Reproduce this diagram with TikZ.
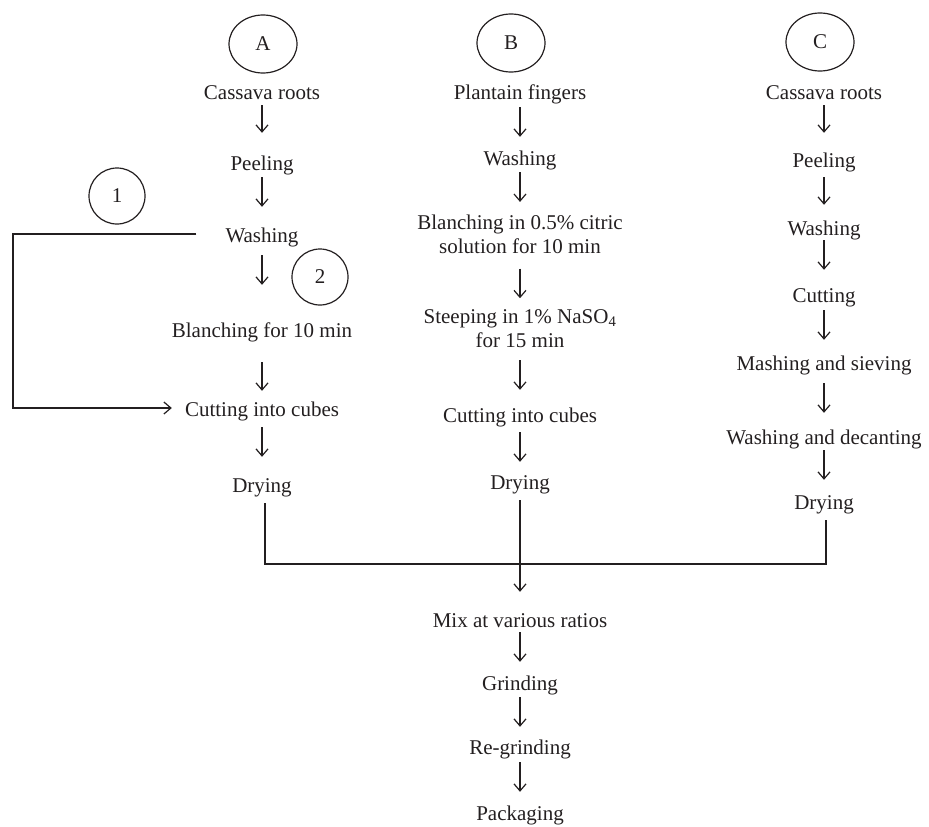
\documentclass[tikz,border=0pt]{standalone}
\usepackage{fontspec}
\setmainfont{Liberation Serif}
\usetikzlibrary{arrows.meta,shapes.geometric}
\definecolor{ink}{HTML}{231F20}
\newcommand\myflow[4]{\draw[arr] ([yshift=-#3pt]#1.south) -- ([yshift=#4pt]#2.north);}
\begin{document}
\begin{tikzpicture}[x=1pt,y=-1pt,
  lbl/.style={font=\fontsize{21}{24}\selectfont, text=ink, inner sep=0pt, text height=14pt, text depth=0pt, align=center},
  lbltwo/.style={font=\fontsize{21}{24}\selectfont, text=ink, inner sep=0pt, align=center},
  arr/.style={draw=ink, line width=1.2pt, -{Straight Barb[length=7pt,width=12pt,line width=1.2pt]}},
  ln/.style={draw=ink, line width=1.2pt},
  bubble/.style={draw=ink, line width=1.2pt, ellipse, minimum width=68pt, minimum height=58pt, inner sep=0pt, font=\fontsize{21}{24}\selectfont, text=ink},
  ring/.style={draw=ink, line width=1.2pt, circle, minimum size=56pt, inner sep=0pt, font=\fontsize{21}{24}\selectfont, text=ink}]
\useasboundingbox (0,0) rectangle (929,827);
% headers
\node[bubble] (eA) at (263,44) {A};
\node[bubble] (eB) at (511,43) {B};
\node[bubble] (eC) at (820,42) {C};
\node[ring] (r1) at (117,196) {1};
\node[ring] (r2) at (320,277) {2};
% column A
\node[lbl] (a1) at (262,92) {Cassava roots};
\node[lbl] (a2) at (262,163) {Peeling};
\node[lbl] (a3) at (262,235) {Washing};
\node[lbl] (a4) at (262,330) {Blanching for 10 min};
\node[lbl] (a5) at (262,409) {Cutting into cubes};
\node[lbl] (a6) at (262,485) {Drying};
% column B
\node[lbl] (b1) at (520,92) {Plantain fingers};
\node[lbl] (b2) at (520,158) {Washing};
\node[lbltwo] (b3) at (520,234) {Blanching in 0.5\% citric\\solution for 10 min};
\node[lbltwo] (b4) at (520,329) {Steeping in 1\% NaSO\textsubscript{4}\\for 15 min};
\node[lbl] (b5) at (520,415) {Cutting into cubes};
\node[lbl] (b6) at (520,482) {Drying};
% column C
\node[lbl] (c1) at (824,92) {Cassava roots};
\node[lbl] (c2) at (824,160) {Peeling};
\node[lbl] (c3) at (824,228) {Washing};
\node[lbl] (c4) at (824,295) {Cutting};
\node[lbl] (c5) at (824,363) {Mashing and sieving};
\node[lbl] (c6) at (824,437) {Washing and decanting};
\node[lbl] (c7) at (824,502) {Drying};
% merged
\node[lbl] (m1) at (520,620) {Mix at various ratios};
\node[lbl] (m2) at (520,683) {Grinding};
\node[lbl] (m3) at (520,747) {Re-grinding};
\node[lbl] (m4) at (520,813) {Packaging};
% arrows A
\myflow{a1}{a2}{6}{23}
\myflow{a2}{a3}{7}{21}
\myflow{a3}{a4}{13}{38}
\myflow{a4}{a5}{25}{11}
\myflow{a5}{a6}{11}{21}
% arrows B
\myflow{b1}{b2}{8}{14}
\myflow{b2}{b3}{7}{12.5}
\myflow{b3}{b4}{15}{11.5}
\myflow{b4}{b5}{12}{18}
\myflow{b5}{b6}{10}{13}
\myflow{b6}{m1}{11}{21}
% arrows C
\myflow{c1}{c2}{6}{20}
\myflow{c2}{c3}{10}{16}
\myflow{c3}{c4}{5}{18}
\myflow{c4}{c5}{8}{16}
\myflow{c5}{c6}{13}{17}
\myflow{c6}{c7}{6}{15}
% arrows merged
\myflow{m1}{m2}{5}{14}
\myflow{m2}{m3}{7}{13}
\myflow{m3}{m4}{8}{14}
% join line
\coordinate (jA) at (265,564);
\coordinate (jC) at (826,564);
\draw[ln] ([xshift=3pt,yshift=-11pt]a6.south) -- (jA) -- (jC) -- ([xshift=2pt,yshift=-11pt]c7.south);
% bypass loop
\coordinate (loopL) at (13,300);
\draw[arr] ([xshift=-29pt,yshift=1pt]a3.west) -| (loopL) |- ([xshift=-13pt,yshift=1pt]a5.west);
\end{tikzpicture}
\end{document}
